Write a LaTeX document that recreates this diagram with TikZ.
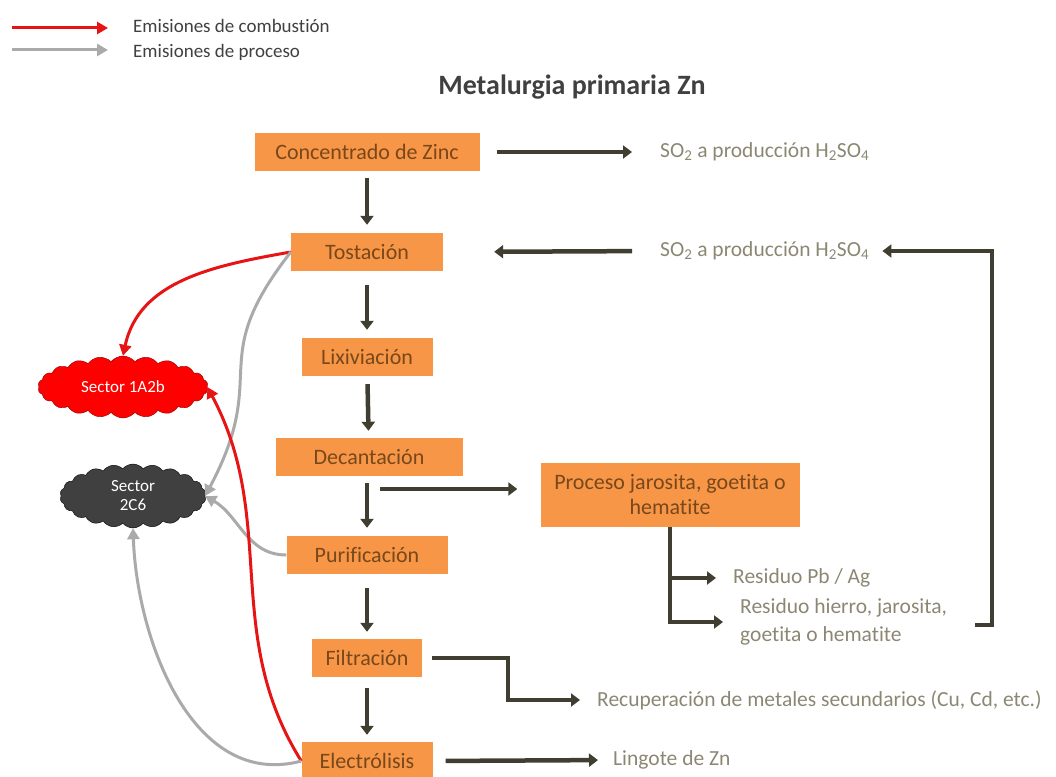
\documentclass[tikz,border=0pt]{standalone}
\usepackage{fontspec}
\setmainfont[Ligatures=NoCommon]{Carlito}
\usetikzlibrary{arrows.meta,positioning,shapes.symbols}
\definecolor{tangerine}{RGB}{247, 150, 70}
\definecolor{umber}{RGB}{120, 72, 28}
\definecolor{bark}{RGB}{64, 62, 48}
\definecolor{pebble}{RGB}{170, 170, 170}
\definecolor{crimson}{RGB}{230, 20, 20}
\definecolor{graphite}{RGB}{64, 64, 64}
\definecolor{khaki}{RGB}{140, 135, 115}
\tikzset{stepbox/.style={fill=tangerine,text=umber,font=\fontsize{22}{25}\selectfont,minimum height=38pt,inner sep=0pt}}
\tikzset{outtext/.style={anchor=west,text=khaki,font=\fontsize{21.5}{28}\selectfont,inner sep=0pt}}
\tikzset{flowarrow/.style={-{Triangle[width=13pt,length=9pt]},line width=4.5pt,bark}}
\tikzset{redvector/.style={-{Triangle[width=12pt,length=11pt]},line width=3pt,crimson}}
\tikzset{grayvector/.style={-{Triangle[width=12pt,length=11pt]},line width=3pt,pebble}}
\tikzset{sectorcloud/.style={cloud,cloud puffs=22,cloud puff arc=100,aspect=2.2,text=white,inner sep=0pt,font=\fontsize{17}{19}\selectfont,align=center}}

\begin{document}
\begin{tikzpicture}[x=1pt,y=1pt]
	\useasboundingbox (0,0) rectangle (1056,-776);
	% legend
	\coordinate (legcomb0) at (12,-28);
	\coordinate (legproc0) at (12,-50);
	\node[anchor=west,inner sep=0pt,text=graphite,font=\fontsize{19}{21}\selectfont] (legcomb) at (133,-26) {Emisiones de combustión};
	\node[anchor=west,inner sep=0pt,text=graphite,font=\fontsize{19}{21}\selectfont] (legproc) at (133,-52) {Emisiones de proceso};
	\draw[redvector] (legcomb0) -- (legcomb0 -| 108,0);
	\draw[grayvector] (legproc0) -- (legproc0 -| 108,0);
	\node[text=graphite,font=\bfseries\fontsize{28}{30}\selectfont] (title) at (572,-87) {Metalurgia primaria Zn};
	% process column
	\node[stepbox,minimum width=225pt] (conc) at (367,-152) {Concentrado de Zinc};
	\node[stepbox,minimum width=152pt] (tost) at (367,-252) {Tostación};
	\node[stepbox,minimum width=131pt] (lix) at (367,-357) {Lixiviación};
	\node[stepbox,minimum width=187pt] (dec) at (369,-457) {Decantación};
	\node[stepbox,minimum width=161pt] (pur) at (367,-555) {Purificación};
	\node[stepbox,minimum width=110pt] (fil) at (367,-658) {Filtración};
	\node[stepbox,minimum width=131pt] (elec) at (367,-761) {Electrólisis};
	\node[stepbox,minimum width=259pt,minimum height=64pt,align=center] (proc) at (670,-495) {Proceso jarosita, goetita o\\hematite};
	% outputs
	\node[outtext] (so2a) at (660,-152) {SO\textsubscript{2} a producción H\textsubscript{2}SO\textsubscript{4}};
	\node[outtext] (so2b) at (660,-251) {SO\textsubscript{2} a producción H\textsubscript{2}SO\textsubscript{4}};
	\node[outtext] (respb) at (733,-578) {Residuo Pb / Ag};
	\node[outtext,align=left] (resfe) at (740,-622) {Residuo hierro, jarosita,\\goetita o hematite};
	\node[outtext] (recup) at (597,-700) {Recuperación de metales secundarios (Cu, Cd, etc.)};
	\node[outtext] (ingot) at (613,-760) {Lingote de Zn};
	% sectors
	\node[sectorcloud,fill=red,draw=red!55!black,minimum width=170pt,minimum height=62pt] (s1a2b) at (123,-387) {Sector 1A2b};
	\node[sectorcloud,fill=graphite,draw=black,minimum width=146pt,minimum height=64pt] (s2c6) at (133,-496) {Sector\\2C6};
	% main flow
	\draw[flowarrow,shorten <=7pt,shorten >=8pt] (conc) -- (tost);
	\draw[flowarrow,shorten <=14pt,shorten >=8pt] (tost) -- (lix);
	\draw[flowarrow,shorten <=8pt,shorten >=7pt] (lix) -- (dec);
	\draw[flowarrow,shorten <=7pt,shorten >=8pt] (dec.south -| lix.south) -- (pur);
	\draw[flowarrow,shorten <=14pt,shorten >=7pt] (pur) -- (fil);
	\draw[flowarrow,shorten <=11pt,shorten >=7pt] (fil) -- (elec);
	% side flows
	\draw[flowarrow,shorten <=17pt,shorten >=28pt] (conc.east) -- (so2a.west);
	\draw[flowarrow,shorten <=28pt,shorten >=51pt] (so2b.west) -- (tost.east);
	\coordinate (fbstart) at (975,-625);
	\coordinate (fbcorner) at (992,-251);
	\draw[flowarrow,line cap=butt,shorten >=13pt] (fbstart) -- (fbstart -| fbcorner) -- (fbcorner) -- (so2b.east);
	\coordinate (decout) at (380,-489);
	\draw[flowarrow,shorten >=23pt] (decout) -- (decout -| proc.west);
	\draw[flowarrow,shorten >=17pt] (proc.south) |- (respb.west);
	\draw[flowarrow,shorten >=17pt] (proc.south) |- (resfe.west);
	\coordinate (filbend) at (508,-658);
	\draw[flowarrow,shorten <=10pt,shorten >=17pt] (fil.east) -- (filbend) |- (recup.west);
	\draw[flowarrow,shorten <=13pt,shorten >=15pt] (elec.east) -- (ingot.west);
	% emissions
	\draw[redvector] (tost.west) to[out=190,in=78] (s1a2b.north);
	\draw[grayvector] (tost.west) to[out=232,in=62,looseness=1.4] (s2c6.east);
	\draw[grayvector] (pur.west) to[out=180,in=-30] (s2c6.east);
	\draw[redvector] (elec.west) to[out=122,in=-62] (s1a2b.east);
	\draw[grayvector] (elec.west) to[out=195,in=-88] (s2c6.south);
\end{tikzpicture}
\end{document}
